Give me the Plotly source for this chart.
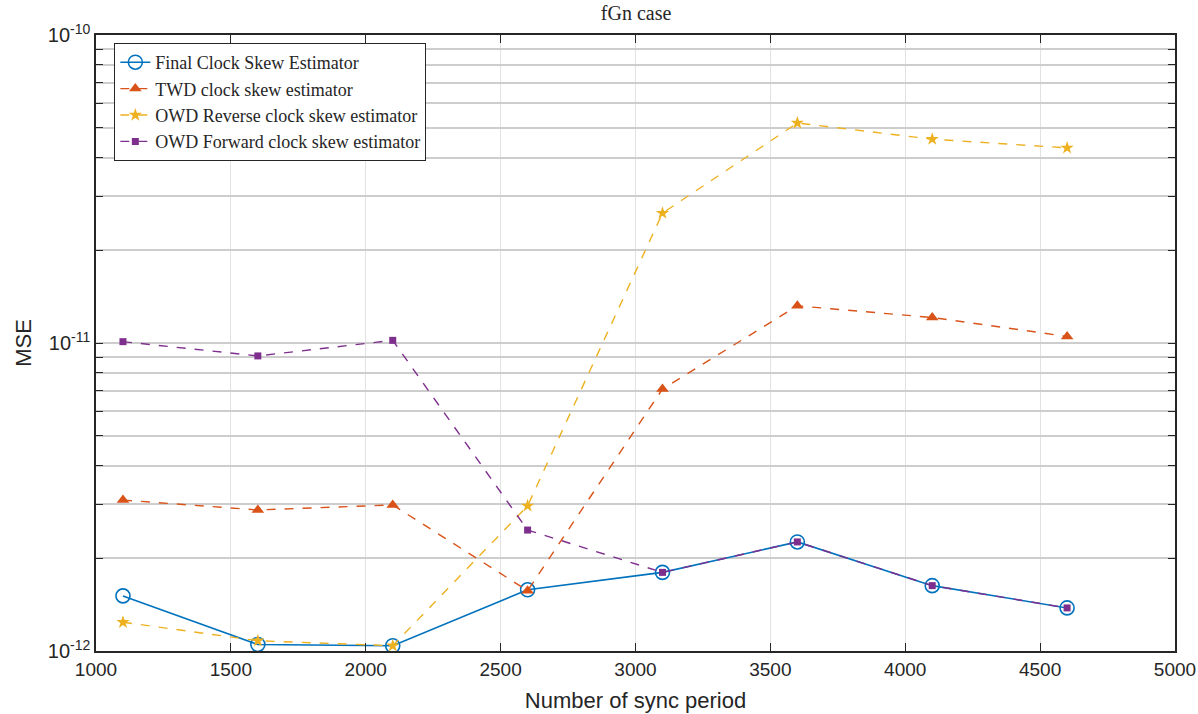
import plotly.graph_objects as go

x_sync = [1100, 1600, 2100, 2600, 3100, 3600, 4100, 4600]
mse_final = [1.51e-12, 1.05e-12, 1.04e-12, 1.58e-12, 1.80e-12, 2.26e-12, 1.63e-12, 1.38e-12]
mse_twd = [3.09e-12, 2.87e-12, 2.98e-12, 1.57e-12, 7.09e-12, 1.32e-11, 1.21e-11, 1.05e-11]
mse_owd_rev = [1.24e-12, 1.08e-12, 1.04e-12, 2.96e-12, 2.64e-11, 5.18e-11, 4.59e-11, 4.30e-11]
mse_owd_fwd = [1.01e-11, 9.08e-12, 1.02e-11, 2.47e-12, 1.80e-12, 2.26e-12, 1.63e-12, 1.38e-12]

x_ticks = [1000, 1500, 2000, 2500, 3000, 3500, 4000, 4500, 5000]
y_major = [1e-12, 1e-11, 1e-10]
y_major_text = ["10<sup>-12</sup>", "10<sup>-11</sup>", "10<sup>-10</sup>"]

# y grid values: all log minor positions, labels only on decades
y_vals, y_text = [], []
for i, e in enumerate((-12, -11)):
    for m in range(1, 10):
        y_vals.append(m * 10.0 ** e)
        y_text.append(y_major_text[i] if m == 1 else "")
y_vals.append(y_major[2])
y_text.append(y_major_text[2])

fig = go.Figure()
fig.add_trace(go.Scatter(
    x=x_sync, y=mse_final, name="Final Clock Skew Estimator", mode="lines+markers",
    line=dict(color="#0072BD", width=1.6),
    marker=dict(symbol="circle-open", size=14, color="#0072BD", line=dict(width=1.6))))
fig.add_trace(go.Scatter(
    x=x_sync, y=mse_twd, name="TWD clock skew estimator", mode="lines+markers",
    line=dict(color="#D95319", width=1.4, dash="dash"),
    marker=dict(symbol="triangle-up", size=11, color="#D95319")))
fig.add_trace(go.Scatter(
    x=x_sync, y=mse_owd_rev, name="OWD Reverse clock skew estimator", mode="lines+markers",
    line=dict(color="#EDB120", width=1.4, dash="dash"),
    marker=dict(symbol="star", size=10, color="#EDB120")))
fig.add_trace(go.Scatter(
    x=x_sync, y=mse_owd_fwd, name="OWD Forward clock skew estimator", mode="lines+markers",
    line=dict(color="#7E2F8E", width=1.4, dash="dash"),
    marker=dict(symbol="square", size=7, color="#7E2F8E")))

fig.update_layout(
    width=1198, height=714,
    margin=dict(l=96, r=23, t=35, b=63),
    paper_bgcolor="white", plot_bgcolor="white",
    title=dict(text="fGn case", x=0.531, xanchor="center", y=0.982, yanchor="middle",
               font=dict(family="Liberation Serif", size=20, color="#262626")),
    font=dict(family="Liberation Sans", color="#262626"),
    legend=dict(x=0.017, y=0.987, xanchor="left", yanchor="top",
                bgcolor="white", bordercolor="#262626", borderwidth=1,
                font=dict(family="Liberation Serif", size=18, color="#262626"),
                itemwidth=30, tracegroupgap=0),
    showlegend=True,
)
fig.update_xaxes(
    range=[1000, 5000], tickvals=x_ticks, ticktext=[str(v) for v in x_ticks],
    showgrid=True, gridcolor="#e2e2e2", gridwidth=1.2,
    showline=True, linecolor="#262626", linewidth=1.5, mirror="ticks",
    ticks="inside", ticklen=8, tickcolor="#262626",
    tickfont=dict(size=19, color="#262626"),
    title=dict(text="Number of sync period", font=dict(size=22, color="#262626"), standoff=14),
    automargin=False, zeroline=False)
fig.update_yaxes(
    type="log", range=[-12, -10], tickvals=y_vals, ticktext=y_text,
    showgrid=True, gridcolor="#cdcdcd", gridwidth=1.6,
    showline=True, linecolor="#262626", linewidth=1.5, mirror="ticks",
    ticks="inside", ticklen=7, tickcolor="#262626",
    tickfont=dict(size=20, color="#262626"),
    title=dict(text="MSE", font=dict(size=22, color="#262626"), standoff=10),
    automargin=False, zeroline=False)

fig.write_html("out.html")
